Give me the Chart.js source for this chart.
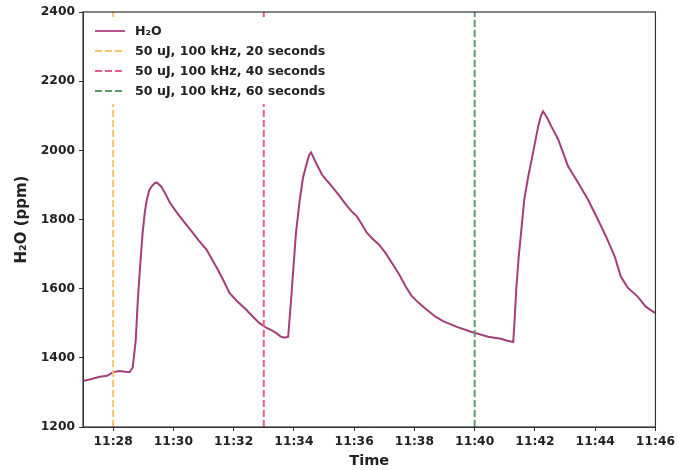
<!DOCTYPE html>
<html>
<head>
<meta charset="utf-8">
<script src="https://cdn.jsdelivr.net/npm/chart.js@4.4.1/dist/chart.umd.min.js"></script>
<style>
  html, body { margin: 0; padding: 0; background: #fff; }
  #wrap { width: 678px; height: 470px; }
</style>
</head>
<body>
<div id="wrap"><canvas id="h2o_chart" width="678" height="470"></canvas></div>
<script>
// time in minutes after 11:00
var minutes = [27.00, 27.25, 27.56, 27.80, 27.99, 28.20, 28.40, 28.55, 28.65, 28.75,
    28.82, 28.90, 28.98, 29.05, 29.12, 29.20, 29.28, 29.38, 29.45, 29.60,
    29.75, 29.88, 30.05, 30.21, 30.40, 30.64, 30.85, 31.10, 31.30, 31.53,
    31.70, 31.86, 32.10, 32.42, 32.65, 32.85, 33.08, 33.25, 33.41, 33.55,
    33.68, 33.81, 33.90, 34.00, 34.07, 34.20, 34.30, 34.40, 34.50, 34.57,
    34.70, 34.93, 35.10, 35.26, 35.50, 35.73, 35.90, 36.09, 36.25, 36.42,
    36.60, 36.82, 37.05, 37.25, 37.50, 37.71, 37.90, 38.14, 38.40, 38.70,
    38.95, 39.23, 39.45, 39.69, 39.85, 40.02, 40.25, 40.45, 40.65, 40.88,
    41.05, 41.28, 41.32, 41.38, 41.46, 41.55, 41.65, 41.78, 41.94, 42.11,
    42.20, 42.27, 42.40, 42.54, 42.77, 42.95, 43.10, 43.43, 43.76, 44.09,
    44.36, 44.65, 44.85, 45.08, 45.41, 45.68, 45.98];
var h2o = [1333, 1338, 1345, 1348, 1358, 1362, 1360, 1359, 1372, 1450,
    1568, 1670, 1762, 1820, 1858, 1885, 1896, 1905, 1907, 1895,
    1872, 1849, 1828, 1809, 1788, 1762, 1738, 1713, 1682, 1646,
    1617, 1588, 1565, 1539, 1518, 1501, 1487, 1480, 1472, 1462,
    1458, 1461, 1560, 1680, 1762, 1860, 1920, 1954, 1985, 1994,
    1970, 1930, 1912, 1896, 1870, 1843, 1825, 1809, 1787, 1762,
    1745, 1728, 1702, 1675, 1640, 1606, 1580, 1559, 1540, 1519,
    1506, 1496, 1488, 1481, 1476, 1472, 1466, 1461, 1458, 1455,
    1450, 1446, 1500, 1597, 1690, 1771, 1860, 1925, 1994, 2070,
    2100, 2113, 2095, 2070, 2032, 1990, 1954, 1907, 1858, 1800,
    1751, 1693, 1635, 1603, 1577, 1548, 1530];

var markerTimes = [28, 33, 40];
var markerLabels = ["50 uJ, 100 kHz, 20 seconds", "50 uJ, 100 kHz, 40 seconds", "50 uJ, 100 kHz, 60 seconds"];
var markerColors = ["#f9c46e", "#e65c8e", "#5f9a6c"];
var lineColor = "#a23f77";

var xTicks = [28, 30, 32, 34, 36, 38, 40, 42, 44, 46];
var yTicks = [1200, 1400, 1600, 1800, 2000, 2200, 2400];

var seriesPoints = minutes.map(function (m, i) { return { x: m, y: h2o[i] }; });

var datasets = [{
    label: "H\u2082O",
    data: seriesPoints,
    borderColor: lineColor,
    borderWidth: 2,
    pointRadius: 0,
    tension: 0,
    order: 2
}];
markerTimes.forEach(function (t, i) {
    datasets.push({
        label: markerLabels[i],
        data: [{ x: t, y: yTicks[0] }, { x: t, y: yTicks[yTicks.length - 1] }],
        borderColor: markerColors[i],
        borderWidth: 2,
        borderDash: [7, 3],
        pointRadius: 0,
        order: 1
    });
});

function timeLabel(v) {
    var h = 11 + Math.floor(v / 60);
    var m = v % 60;
    return h + ":" + (m < 10 ? "0" + m : m);
}

var framePlugin = {
    id: 'frame',
    afterDatasetsDraw: function (chart) {
        var ctx = chart.ctx, a = chart.chartArea;
        ctx.save();
        ctx.strokeStyle = '#333';
        ctx.lineWidth = 1.2;
        ctx.strokeRect(a.left, a.top, a.right - a.left, a.bottom - a.top);

        // legend inside the plot, upper left
        ctx.fillStyle = '#fff';
        ctx.fillRect(a.left + 5, a.top + 8, 246, 84);
        ctx.font = 'bold 12.6px "DejaVu Sans"';
        ctx.textBaseline = 'middle';
        var rows = [{ label: "H\u2082O", color: "#b85590", dash: [] }];
        markerLabels.forEach(function (l, i) {
            rows.push({ label: l, color: markerColors[i], dash: [7, 3] });
        });
        rows.forEach(function (r, i) {
            var y = a.top + 19 + i * 20;
            ctx.strokeStyle = r.color;
            ctx.lineWidth = 2;
            ctx.setLineDash(r.dash);
            ctx.beginPath();
            ctx.moveTo(a.left + 12, y);
            ctx.lineTo(a.left + 42, y);
            ctx.stroke();
            ctx.setLineDash([]);
            ctx.fillStyle = '#222';
            ctx.fillText(r.label, a.left + 52, y + 1);
        });
        ctx.restore();
    }
};

new Chart(document.getElementById("h2o_chart").getContext("2d"), {
    type: 'line',
    data: { datasets: datasets },
    options: {
        responsive: false,
        animation: false,
        layout: { padding: { left: 0, top: 12, right: 20, bottom: 0 } },
        plugins: { legend: { display: false }, tooltip: { enabled: false } },
        scales: {
            x: {
                type: 'linear',
                min: 27,
                max: 46,
                afterBuildTicks: function (scale) {
                    scale.ticks = xTicks.map(function (v) { return { value: v }; });
                },
                afterFit: function (scale) { scale.height = 43; },
                grid: { drawOnChartArea: false, drawTicks: true, tickLength: 4, color: '#333' },
                border: { display: true, color: '#333' },
                ticks: {
                    padding: 3,
                    color: '#222',
                    font: { family: 'DejaVu Sans', size: 12.3, weight: 'bold' },
                    maxRotation: 0,
                    callback: function (v) { return timeLabel(v); }
                },
                title: {
                    display: true,
                    text: 'Time',
                    color: '#222',
                    padding: { top: 1, bottom: 0 },
                    font: { family: 'DejaVu Sans', size: 14.6, weight: 'bold' }
                }
            },
            y: {
                min: 1200,
                max: 2400,
                afterBuildTicks: function (scale) {
                    scale.ticks = yTicks.map(function (v) { return { value: v }; });
                },
                afterFit: function (scale) { scale.width = 83; },
                grid: { drawOnChartArea: false, drawTicks: true, tickLength: 4, color: '#333' },
                border: { display: true, color: '#333' },
                ticks: {
                    padding: 4,
                    color: '#222',
                    font: { family: 'DejaVu Sans', size: 12.3, weight: 'bold' },
                    callback: function (v) { return String(v); }
                },
                title: {
                    display: true,
                    text: 'H\u2082O (ppm)',
                    color: '#222',
                    padding: { top: 13, bottom: 0 },
                    font: { family: 'DejaVu Sans', size: 15, weight: 'bold' }
                }
            }
        }
    },
    plugins: [framePlugin]
});
</script>
</body>
</html>
